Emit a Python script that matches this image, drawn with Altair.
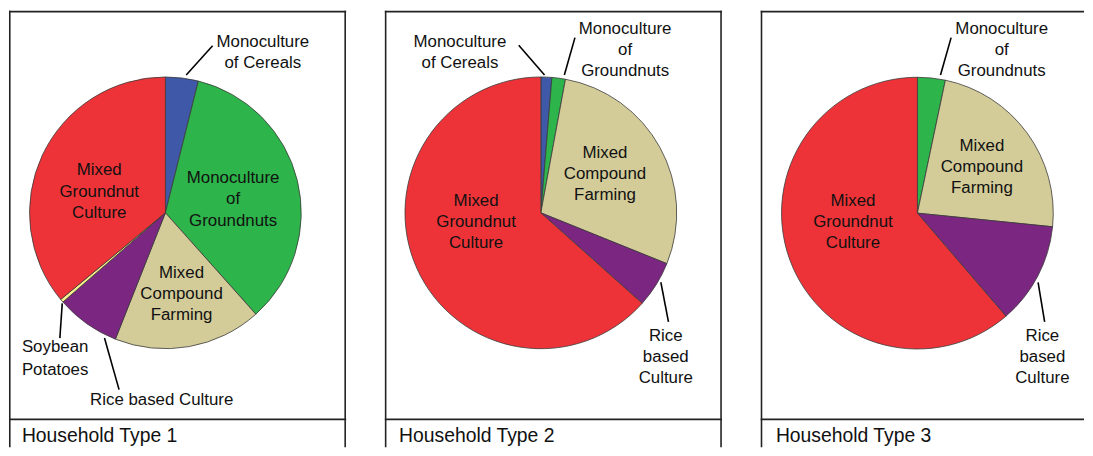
import altair as alt
import pandas as pd

# ---------------- data ----------------
categories = ["Monoculture of Cereals", "Monoculture of Groundnuts", "Mixed Compound Farming",
              "Rice based Culture", "Soybean Potatoes", "Mixed Groundnut Culture"]
colors = ["#3F58A8", "#2DB44A", "#D3CC99", "#7B2680", "#F8EE8C", "#EE3338"]
panel_titles = ["Household Type 1", "Household Type 2", "Household Type 3"]
share_type1 = [3.9, 34.5, 17.6, 7.6, 0.4, 36.0]
share_type2 = [1.3, 1.6, 28.2, 5.5, 0.0, 63.4]
share_type3 = [0.0, 3.3, 23.3, 12.1, 0.0, 61.3]
shares = [share_type1, share_type2, share_type3]

# ---------------- layout (pixels inside each panel; y = first text line) ----------------
FONT = "Liberation Sans"
panel_w = [340, 340, 326]
panel_h = 440
divider_y = 412
pie_center = [(157.7, 203.7), (157.3, 203.7), (158.0, 204.0)]
pie_r = 137

center_labels = [
    [("Monoculture\nof Cereals", 256, 31),
     ("Monoculture\nof\nGroundnuts", 226, 169),
     ("Mixed\nCompound\nFarming", 174, 264),
     ("Mixed\nGroundnut\nCulture", 91, 161),
     ("Rice based Culture", 154, 392)],
    [("Monoculture\nof Cereals", 75.7, 31),
     ("Monoculture\nof\nGroundnuts", 242.3, 18),
     ("Mixed\nCompound\nFarming", 222, 143),
     ("Mixed\nGroundnut\nCulture", 92, 192),
     ("Rice\nbased\nCulture", 283.3, 328)],
    [("Monoculture\nof\nGroundnuts", 243, 18),
     ("Mixed\nCompound\nFarming", 223, 136),
     ("Mixed\nGroundnut\nCulture", 93, 192),
     ("Rice\nbased\nCulture", 284, 328)],
]
left_labels = [
    [("Soybean\nPotatoes", 13, 339)],
    [],
    [],
]
leaders = [
    [(178.7, 64.7, 205.3, 35.3), (53.7, 295, 51.3, 330), (96.3, 330, 111, 382)],
    [(135, 34.7, 161, 64.7), (191.7, 27, 181, 64.7), (278.3, 273.7, 286, 313.7)],
    [(192, 27, 181.3, 64.7), (279.7, 273.7, 286.3, 313.7)],
]
caption_x = [13, 14.3, 15.3]
caption_y = 429
has_right_border = [True, True, False]


def panel(i):
    w = panel_w[i]
    cx, cy = pie_center[i]
    df = pd.DataFrame({"category": categories, "value": shares[i],
                       "idx": list(range(len(categories)))})
    df = df[df["value"] > 0]

    pie = alt.Chart(df).mark_arc(radius=pie_r, stroke="#3a3a3a", strokeWidth=0.8).encode(
        theta=alt.Theta("value:Q", stack=True),
        color=alt.Color("category:N", scale=alt.Scale(domain=categories, range=colors), legend=None),
        order=alt.Order("idx:Q"),
        x=alt.value(cx),
        y=alt.value(cy),
    )

    lab = pd.DataFrame(center_labels[i], columns=["text", "x", "y"])
    clab = alt.Chart(lab).mark_text(font=FONT, fontSize=17, lineHeight=21.3, align="center",
                                    baseline="middle", lineBreak="\n", color="#111111").encode(
        x=alt.X("x:Q", scale=None), y=alt.Y("y:Q", scale=None), text="text:N")

    layers = [pie, clab]
    if left_labels[i]:
        ll = pd.DataFrame(left_labels[i], columns=["text", "x", "y"])
        layers.append(alt.Chart(ll).mark_text(font=FONT, fontSize=17, lineHeight=23, align="left",
                                              baseline="middle", lineBreak="\n", color="#111111").encode(
            x=alt.X("x:Q", scale=None), y=alt.Y("y:Q", scale=None), text="text:N"))

    ld = pd.DataFrame(leaders[i], columns=["x", "y", "x2", "y2"])
    layers.append(alt.Chart(ld).mark_rule(color="#000000", strokeWidth=1.6).encode(
        x=alt.X("x:Q", scale=None), y=alt.Y("y:Q", scale=None), x2="x2:Q", y2="y2:Q"))

    segs = [(0, 0.8, w, 0.8), (0, divider_y, w, divider_y), (0.8, 0, 0.8, panel_h)]
    if has_right_border[i]:
        segs.append((w - 1, 0, w - 1, panel_h))
    bd = pd.DataFrame(segs, columns=["x", "y", "x2", "y2"])
    layers.append(alt.Chart(bd).mark_rule(color="#222222", strokeWidth=1.6).encode(
        x=alt.X("x:Q", scale=None), y=alt.Y("y:Q", scale=None), x2="x2:Q", y2="y2:Q"))

    cap = pd.DataFrame({"text": [panel_titles[i]], "x": [caption_x[i]], "y": [caption_y]})
    layers.append(alt.Chart(cap).mark_text(font=FONT, fontSize=19.5, align="left",
                                           baseline="middle", color="#111111").encode(
        x=alt.X("x:Q", scale=None), y=alt.Y("y:Q", scale=None), text="text:N"))

    return alt.layer(*layers).properties(width=w, height=panel_h)


chart = alt.hconcat(panel(0), panel(1), panel(2), spacing=37).properties(
    padding=0
).configure_view(strokeWidth=0)

chart.save("out.html", embed_options={"renderer": "svg", "actions": False})
